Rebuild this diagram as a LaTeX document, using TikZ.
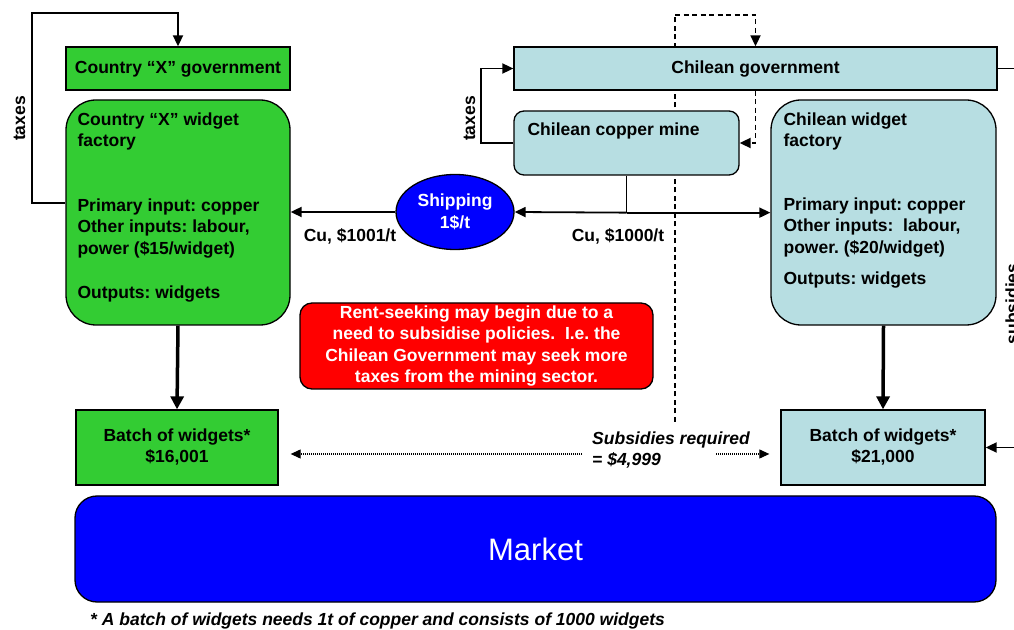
\documentclass[tikz,border=0pt]{standalone}
\usepackage{fontspec}
\setmainfont{Liberation Sans}
\usepackage{tikz}
\usetikzlibrary{arrows.meta, positioning, calc, shapes.geometric}
\frenchspacing

\definecolor{xgreen}{RGB}{51,204,51}
\definecolor{chblue}{RGB}{183,222,226}
\definecolor{shipblue}{RGB}{0,0,255}
\definecolor{rentred}{RGB}{255,0,0}

\begin{document}
\begin{tikzpicture}[x=1pt, y=1pt,
    font=\fontsize{17.5}{21.5}\selectfont\bfseries,
    box/.style={draw, line width=1.3pt, inner sep=0pt},
    flow/.style={line width=1.8pt},
    arr/.style={flow, -{Triangle[length=11pt, width=10pt]}},
    bigarr/.style={line width=3.5pt, -{Triangle[length=13pt, width=13pt]}},
    border/.style={flow, dash pattern=on 5pt off 3.5pt},
    dotarr/.style={line width=1.1pt, dash pattern=on 1pt off 1pt, -{Triangle[length=10pt, width=9pt]}},
    slanted/.style={font=\fontsize{17.5}{21.5}\selectfont\bfseries\itshape}]

  \useasboundingbox (0,0) rectangle (1014,629);
  \clip (0,0) rectangle (1014,629);

  % border between the countries (behind the boxes)
  \coordinate (borderbot) at (675,207);
  \coordinate (bordertop) at (675,614);
  \draw[border] (borderbot) -- (bordertop);

  % country X
  \node[box, fill=xgreen, minimum width=224, minimum height=43, text depth=2pt] (xgov) at (178,560.5) {Country “X” government};
  \node[box, fill=xgreen, rounded corners=30, minimum width=224, minimum height=225] (xfac) at (178,416.5) {};
  \node[anchor=north west, align=left, inner sep=0] (xfactxt) at ([shift={(12,-13)}]xfac.north west)
    {Country “X” widget\\factory\\[43pt]Primary input: copper\\Other inputs: labour,\\power (\$15/widget)\\[23pt]Outputs: widgets};
  \node[box, fill=xgreen, minimum width=202, minimum height=75, align=center, text depth=4pt] (xbatch) at (177,181.5) {Batch of widgets*\\\$16,001};

  % chile
  \node[box, fill=chblue, minimum width=483, minimum height=43, text depth=2pt] (cgov) at (755.5,560.5) {Chilean government};
  \node[box, fill=chblue, rounded corners=10, minimum width=225, minimum height=64] (mine) at (626.5,486) {};
  \node[anchor=north west, inner sep=0] (minetxt) at ([shift={(14,-12)}]mine.north west) {Chilean copper mine};
  \node[box, fill=chblue, rounded corners=30, minimum width=225, minimum height=225] (cfac) at (883.5,416.5) {};
  \node[anchor=north west, align=left, inner sep=0] (cfactxt) at ([shift={(13,-13)}]cfac.north west)
    {Chilean widget\\factory\\[42pt]Primary input: copper\\Other inputs:\ \ labour,\\power. (\$20/widget)\\[10pt]Outputs: widgets};
  \node[box, fill=chblue, minimum width=204, minimum height=75, align=center, text depth=4pt] (cbatch) at (883,181.5) {Batch of widgets*\\\$21,000};

  % shipping and rent-seeking note
  \node[ellipse, draw, line width=1.3pt, fill=shipblue, text=white, minimum width=118, minimum height=75,
        inner sep=0, align=center] (ship) at (455,417) {Shipping\\1\$/t};
  \node[box, fill=rentred, rounded corners=12, minimum width=353, minimum height=86, text=white,
        align=center] (rent) at (476.5,283)
    {Rent-seeking may begin due to a\\need to subsidise policies.\ \ I.e. the\\Chilean Government may seek more\\taxes from the mining sector.};

  % market
  \node[box, fill=shipblue, rounded corners=22, minimum width=921, minimum height=106, text=white,
        font=\fontsize{31}{36}\selectfont] (market) at (535.5,80) {Market};
  \node[slanted, anchor=base west, inner sep=0] (note) at (90,3.5)
    {* A batch of widgets needs 1t of copper and consists of 1000 widgets};

  % taxes
  \draw[arr] ([yshift=9.5]xfac.west) -- ++(-33,0) |- ([yshift=33]xgov.north) -- (xgov.north);
  \node[rotate=90, anchor=base] (xtaxes) at (25,510.5) {taxes};
  \draw[arr] (mine.west) -- ++(-32,0) |- (cgov.west);
  \node[rotate=90, anchor=base] (ctaxes) at (475,510.5) {taxes};

  % dashed loop over the border
  \draw[border, -{Triangle[length=11pt, width=10pt]}] (bordertop) -| (cgov.north);
  \draw[border, -{Triangle[length=11pt, width=10pt]}] (cgov.south) |- (mine.east);

  % copper flows
  \draw[flow] (mine.south) -- ++(0,-37) coordinate (cujunc);
  \draw[arr] (cujunc) -- (ship.east);
  \draw[arr] (cujunc) -- (cujunc -| cfac.west);
  \draw[arr] (ship.west) -- (ship.west -| xfac.east);
  \node (cu1001) at (350,393) {Cu, \$1001/t};
  \node (cu1000) at (618,393) {Cu, \$1000/t};

  % production
  \draw[bigarr] (xfac.south) -- (xbatch.north);
  \draw[bigarr] (cfac.south) -- (cbatch.north);

  % subsidies
  \node[slanted, anchor=west, align=left, inner sep=0] (subs) at (592,179) {Subsidies required\\= \$4,999};
  \coordinate (subsL) at ([shift={(-10,-4)}]subs.west);
  \coordinate (subsR) at ([shift={(124,-4)}]subs.west);
  \draw[dotarr, shorten >=12pt] (subsL) -- (subsL -| xbatch.east);
  \draw[dotarr, shorten >=11pt] (subsR) -- (subsR -| cbatch.west);
  \draw[flow] (cgov.east) -- ++(40,0) coordinate (subsidtop);
  \draw[arr] (subsidtop) |- (cbatch.east);
  \node[rotate=90, anchor=base] (subsidies) at (1018,325) {subsidies};

\end{tikzpicture}
\end{document}
